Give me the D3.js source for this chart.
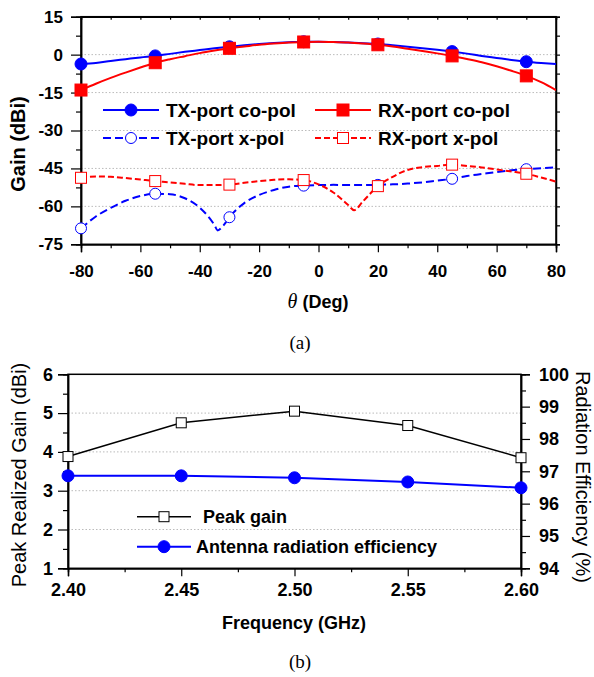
<!DOCTYPE html>
<html>
<head>
<meta charset="utf-8">
<script src="https://cdn.jsdelivr.net/npm/d3@7"></script>
<style>
  body { margin: 0; background: #fff; }
  text { font-family: "Liberation Sans", Arial, sans-serif; }
  .tick text { font-weight: bold; fill: #000; }
  .grid line { stroke: #bbb; stroke-dasharray: 1.5,2; }
</style>
</head>
<body>
<script>
// ---- data, (a) gain vs theta ----
var thetaCo = [-80,-75,-70,-65,-60,-55,-50,-45,-40,-35,-30,-25,-20,-15,-10,-5,0,5,10,15,20,25,30,35,40,45,50,55,60,65,70,75,80];
var txCo = [-3.7,-3.3,-2.5,-1.8,-1.1,-0.5,0.3,1.1,1.8,2.5,3.1,3.7,4.2,4.6,4.9,5.1,5.1,5.0,4.8,4.5,4.2,3.7,3.1,2.5,1.9,1.2,0.4,-0.5,-1.3,-2.1,-2.8,-3.3,-3.7];
var rxCo = [-14.0,-11.5,-9.2,-7.1,-5.1,-3.2,-1.8,-0.6,0.6,1.6,2.5,3.2,3.9,4.4,4.8,5.0,5.1,5.0,4.8,4.4,3.9,3.2,2.3,1.4,0.5,-0.5,-1.7,-3.0,-4.6,-6.4,-8.4,-10.9,-14.0];

var thetaTxX = [-80,-75,-70,-65,-60,-55,-50,-45,-40,-35,-34,-32,-30,-25,-20,-15,-10,-5,0,5,10,15,20,25,30,35,40,45,50,55,60,65,70,75,80];
var txX = [-68.7,-64.0,-60.6,-57.8,-55.9,-55.0,-55.2,-56.8,-60.5,-67.5,-69.5,-67.5,-64.3,-58.7,-55.5,-53.5,-52.2,-51.8,-51.6,-51.5,-51.6,-51.6,-51.5,-51.3,-51.0,-50.5,-49.8,-49.1,-48.0,-47.2,-46.4,-45.7,-45.3,-44.9,-44.6];

var thetaRxX = [-80,-75,-70,-65,-60,-55,-50,-45,-40,-35,-30,-25,-20,-15,-10,-5,0,5,10,12,15,20,25,30,35,40,45,50,55,60,65,70,75,80];
var rxX = [-48.7,-48.2,-48.3,-48.8,-49.4,-50.0,-50.5,-51.1,-51.6,-51.6,-51.4,-50.7,-50.0,-49.5,-49.3,-49.6,-51.3,-54.5,-59.5,-61.5,-58.0,-52.0,-48.3,-45.6,-44.5,-44.0,-43.5,-44.0,-44.6,-45.4,-46.2,-47.1,-48.6,-50.2];

var markerTheta = [-80,-55,-30,-5,20,45,70];
var thetaTicks = [-80,-60,-40,-20,0,20,40,60,80];
var gainTicks = [-75,-60,-45,-30,-15,0,15];

// ---- data, (b) peak gain / efficiency vs frequency ----
var freq = [2.40,2.45,2.50,2.55,2.60];
var peakGain = [3.88,4.75,5.05,4.68,3.85];
var efficiency = [96.86,96.86,96.80,96.67,96.49];
var freqTicks = [2.40,2.45,2.50,2.55,2.60];
var pgTicks = [1,2,3,4,5,6];
var effTicks = [94,95,96,97,98,99,100];

var svg = d3.select("body").append("svg")
    .attr("width", 594)
    .attr("height", 677);

function zip(xs, ys) { return xs.map(function(x, i) { return [x, ys[i]]; }); }
var plain = function(d) { return String(d); };  // hyphen minus like the original

// ================= (a) =================
var x1 = d3.scaleLinear().domain([-80, 80]).range([81, 556]);
var y1 = d3.scaleLinear().domain([-75, 15]).range([244.3, 16.7]);

var ga = svg.append("g");

ga.append("g").attr("class", "grid")
  .selectAll("line").data([-60,-45,-30,-15,0]).enter().append("line")
    .attr("x1", 81).attr("x2", 556)
    .attr("y1", function(d) { return y1(d); }).attr("y2", function(d) { return y1(d); });

// minor ticks
ga.append("g").attr("transform", "translate(81,0)")
  .call(d3.axisLeft(y1).tickValues(d3.range(-67.5, 15, 15)).tickSize(5).tickFormat(""));
ga.append("g").attr("transform", "translate(0,244.3)")
  .call(d3.axisBottom(x1).tickValues(d3.range(-70, 80, 20)).tickSize(4).tickFormat(""));
ga.append("g").attr("transform", "translate(556,0)")
  .call(d3.axisLeft(y1).tickValues(d3.range(-75, 15.1, 7.5)).tickSize(-4).tickFormat(""));
ga.append("g").attr("transform", "translate(0,16.7)")
  .call(d3.axisTop(x1).tickValues(d3.range(-80, 81, 10)).tickSize(-3).tickFormat(""));

var ay1 = ga.append("g").attr("transform", "translate(81,0)")
  .call(d3.axisLeft(y1).tickValues(gainTicks).tickSize(10).tickPadding(8).tickFormat(plain));
ay1.selectAll("text").style("font-size", "17px");
var ax1 = ga.append("g").attr("transform", "translate(0,244.3)")
  .call(d3.axisBottom(x1).tickValues(thetaTicks).tickSize(8).tickPadding(13).tickFormat(plain));
ax1.selectAll("text").style("font-size", "17px");
ga.selectAll(".domain").attr("stroke", "#000").attr("stroke-width", 1.5);
ga.selectAll(".tick line").attr("stroke", "#000").attr("stroke-width", 1.2);

ga.append("rect").attr("x", 81).attr("y", 16.7).attr("width", 475).attr("height", 227.6)
  .attr("fill", "none").attr("stroke", "#000").attr("stroke-width", 1.5);

svg.append("clipPath").attr("id", "clipA").append("rect")
  .attr("x", 81).attr("y", 16.7).attr("width", 475).attr("height", 227.6);

var line1 = d3.line()
  .x(function(d) { return x1(d[0]); })
  .y(function(d) { return y1(d[1]); })
  .curve(d3.curveMonotoneX);

var seriesA = [
  {name: "TX-port co-pol", th: thetaCo, v: txCo, color: "#0000ff", dash: null, shape: "circle", fill: true},
  {name: "RX-port co-pol", th: thetaCo, v: rxCo, color: "#ff0000", dash: null, shape: "square", fill: true},
  {name: "TX-port x-pol", th: thetaTxX, v: txX, color: "#0000ff", dash: "8,4", shape: "circle", fill: false},
  {name: "RX-port x-pol", th: thetaRxX, v: rxX, color: "#ff0000", dash: "6,3", shape: "square", fill: false}
];

function drawMarker(g, s, cx, cy, size) {
  if (s.shape === "circle") {
    g.append("circle").attr("cx", cx).attr("cy", cy).attr("r", size / 2)
      .attr("fill", s.fill ? s.color : "#fff").attr("stroke", s.color).attr("stroke-width", 1);
  } else {
    g.append("rect").attr("x", cx - size / 2).attr("y", cy - size / 2)
      .attr("width", size).attr("height", size)
      .attr("fill", s.fill ? s.color : "#fff").attr("stroke", s.color).attr("stroke-width", 1);
  }
}

var plotA = ga.append("g").attr("clip-path", "url(#clipA)");
seriesA.forEach(function(s) {
  plotA.append("path").datum(zip(s.th, s.v))
    .attr("d", line1).attr("fill", "none")
    .attr("stroke", s.color).attr("stroke-width", 2)
    .attr("stroke-dasharray", s.dash);
});
var markA = ga.append("g");
seriesA.forEach(function(s) {
  markerTheta.forEach(function(t) {
    var i = s.th.indexOf(t);
    drawMarker(markA, s, x1(t), y1(s.v[i]), s.fill ? 12 : 11);
  });
});

// legend (a)
var legA = [
  {s: seriesA[0], x: 103, y: 110},
  {s: seriesA[2], x: 103, y: 138},
  {s: seriesA[1], x: 315, y: 110},
  {s: seriesA[3], x: 315, y: 138}
];
legA.forEach(function(l) {
  ga.append("line").attr("x1", l.x).attr("x2", l.x + 56).attr("y1", l.y).attr("y2", l.y)
    .attr("stroke", l.s.color).attr("stroke-width", 2).attr("stroke-dasharray", l.s.dash);
  drawMarker(ga, l.s, l.x + 28, l.y, l.s.fill ? 12 : 11);
  ga.append("text").attr("x", l.x + 63).attr("y", l.y + 7)
    .style("font-size", "19px").style("font-weight", "bold").text(l.s.name);
});

ga.append("text").attr("transform", "translate(25,144) rotate(-90)")
  .attr("text-anchor", "middle").style("font-size", "20px").style("font-weight", "bold")
  .text("Gain (dBi)");
var xt = ga.append("text").attr("x", 318).attr("y", 308).attr("text-anchor", "middle");
xt.append("tspan").style("font-family", "'Liberation Serif', 'Times New Roman', serif")
  .style("font-style", "italic").style("font-size", "20px").text("\u03B8");
xt.append("tspan").style("font-size", "18px").style("font-weight", "bold").text("  (Deg)");
ga.append("text").attr("x", 300).attr("y", 349).attr("text-anchor", "middle")
  .style("font-family", "'Liberation Serif', 'Times New Roman', serif").style("font-size", "19px")
  .text("(a)");

// ================= (b) =================
var x2 = d3.scaleLinear().domain([2.40, 2.60]).range([68, 521]);
var y2 = d3.scaleLinear().domain([1, 6]).range([568.3, 374.3]);
var y2r = d3.scaleLinear().domain([94, 100]).range([568.3, 374.3]);

var gb = svg.append("g");

gb.append("g").attr("class", "grid")
  .selectAll("line").data([2,3,4,5]).enter().append("line")
    .attr("x1", 68).attr("x2", 521)
    .attr("y1", function(d) { return y2(d); }).attr("y2", function(d) { return y2(d); });

gb.append("g").attr("transform", "translate(68,0)")
  .call(d3.axisLeft(y2).tickValues(d3.range(1.5, 6, 1)).tickSize(5).tickFormat(""));
gb.append("g").attr("transform", "translate(0,568.3)")
  .call(d3.axisBottom(x2).tickValues([2.425,2.475,2.525,2.575]).tickSize(4).tickFormat(""));
gb.append("g").attr("transform", "translate(521,0)")
  .call(d3.axisRight(y2r).tickValues(d3.range(94.5, 100, 1)).tickSize(5).tickFormat(""));

var ay2 = gb.append("g").attr("transform", "translate(68,0)")
  .call(d3.axisLeft(y2).tickValues(pgTicks).tickSize(10).tickPadding(5).tickFormat(plain));
ay2.selectAll("text").style("font-size", "18px");
var ay2r = gb.append("g").attr("transform", "translate(521,0)")
  .call(d3.axisRight(y2r).tickValues(effTicks).tickSize(9).tickPadding(9).tickFormat(plain));
ay2r.selectAll("text").style("font-size", "18px");
var ax2 = gb.append("g").attr("transform", "translate(0,568.3)")
  .call(d3.axisBottom(x2).tickValues(freqTicks).tickSize(8).tickPadding(7).tickFormat(d3.format(".2f")));
ax2.selectAll("text").style("font-size", "18px");
gb.selectAll(".domain").attr("stroke", "#000").attr("stroke-width", 1.5);
gb.selectAll(".tick line").attr("stroke", "#000").attr("stroke-width", 1.2);

gb.append("rect").attr("x", 68).attr("y", 374.3).attr("width", 453).attr("height", 194)
  .attr("fill", "none").attr("stroke", "#000").attr("stroke-width", 1.5);

var seriesB = [
  {name: "Peak gain", v: peakGain, y: y2, color: "#000", shape: "square", fill: false, width: 1.5, size: 10},
  {name: "Antenna radiation efficiency", v: efficiency, y: y2r, color: "#0000ff", shape: "circle", fill: true, width: 2, size: 12}
];
seriesB.forEach(function(s) {
  var ln = d3.line().x(function(d) { return x2(d[0]); }).y(function(d) { return s.y(d[1]); });
  gb.append("path").datum(zip(freq, s.v)).attr("d", ln)
    .attr("fill", "none").attr("stroke", s.color).attr("stroke-width", s.width);
  freq.forEach(function(f, i) { drawMarker(gb, s, x2(f), s.y(s.v[i]), s.size); });
});

var legB = [
  {s: seriesB[0], y: 516.7, tx: 203},
  {s: seriesB[1], y: 546.7, tx: 196}
];
legB.forEach(function(l) {
  gb.append("line").attr("x1", 137).attr("x2", 191).attr("y1", l.y).attr("y2", l.y)
    .attr("stroke", l.s.color).attr("stroke-width", l.s.width);
  drawMarker(gb, l.s, 164, l.y, l.s.size);
  gb.append("text").attr("x", l.tx).attr("y", l.y + 6.5)
    .style("font-size", "18px").style("font-weight", "bold").text(l.s.name);
});

gb.append("text").attr("transform", "translate(26,475) rotate(-90)")
  .attr("text-anchor", "middle").style("font-size", "20px")
  .text("Peak Realized Gain (dBi)");
gb.append("text").attr("transform", "translate(576,477) rotate(90)")
  .attr("text-anchor", "middle").style("font-size", "20px")
  .text("Radiation Efficiency (%)");
gb.append("text").attr("x", 294).attr("y", 629).attr("text-anchor", "middle")
  .style("font-size", "18px").style("font-weight", "bold").text("Frequency (GHz)");
gb.append("text").attr("x", 300).attr("y", 668).attr("text-anchor", "middle")
  .style("font-family", "'Liberation Serif', 'Times New Roman', serif").style("font-size", "19px")
  .text("(b)");
</script>
</body>
</html>
